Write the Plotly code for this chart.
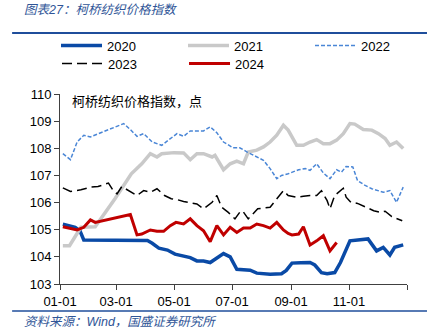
import pandas as pd
import plotly.graph_objects as go

# ---- data (days since Jan-1, index value) ----
days_2020 = [3,16,21,25,92,97,104,113,121,130,137,144,151,158,165,172,179,186,200,207,221,233,238,244,253,263,268,275,281,289,295,300,305,324,328,333,340,347,352,361]
val_2020 = [105.20,105.09,104.96,104.62,104.60,104.50,104.32,104.25,104.10,104.01,103.97,103.85,103.85,103.79,103.95,104.12,104.00,103.54,103.51,103.40,103.36,103.38,103.50,103.77,103.78,103.79,103.70,103.42,103.38,103.42,103.79,104.22,104.59,104.66,104.47,104.22,104.35,104.07,104.35,104.44]

days_2021 = [3,10,22,37,58,75,86,95,102,107,120,130,137,144,151,160,163,172,179,186,193,198,207,214,221,228,235,240,249,256,263,270,277,284,291,298,305,310,319,328,335,342,347,354,361]
val_2021 = [104.41,104.41,105.09,105.11,106.15,107.06,107.43,107.80,107.68,107.80,107.84,107.83,107.58,107.80,107.80,107.68,107.74,107.21,107.43,107.53,107.43,107.86,107.93,108.05,108.23,108.48,108.85,108.67,108.11,108.11,108.23,108.32,108.17,108.17,108.30,108.54,108.91,108.89,108.69,108.67,108.54,108.36,108.11,108.23,107.99]

days_2022 = [3,11,18,25,32,39,48,58,67,74,81,88,97,107,116,123,130,137,151,158,165,172,182,189,197,207,214,221,228,233,240,251,258,263,270,277,284,291,296,301,308,313,321,328,335,340,347,354,361]
val_2022 = [107.80,107.58,108.23,108.48,108.42,108.52,108.64,108.77,108.91,108.69,108.44,108.54,108.23,108.11,108.36,108.54,108.44,108.64,108.64,108.79,108.57,108.23,108.02,108.02,107.86,107.68,107.56,107.25,106.88,107.00,107.06,107.21,107.25,107.19,107.43,107.09,106.88,107.21,107.12,107.33,107.31,106.81,106.63,106.51,106.44,106.38,106.44,106.01,106.57]

days_2023 = [3,11,22,32,40,51,56,60,65,72,81,88,95,102,110,117,123,130,137,144,151,160,165,170,177,184,189,192,198,201,208,221,228,235,240,249,256,263,270,275,281,284,289,298,301,306,313,321,330,337,342,349,358,360]
val_2023 = [106.54,106.41,106.47,106.57,106.59,106.72,106.44,106.32,106.59,106.44,106.26,106.44,106.38,106.51,106.26,106.14,106.11,106.04,105.99,105.95,105.77,106.01,106.26,105.83,105.64,105.40,105.64,105.70,105.40,105.52,105.77,105.83,106.14,106.44,106.26,106.20,106.23,106.26,106.26,106.44,106.07,105.77,106.26,106.53,106.20,106.01,105.97,105.85,105.70,105.64,105.68,105.48,105.36,105.33]

days_2024 = [3,11,18,25,32,37,74,81,86,95,102,109,116,122,130,137,144,151,158,165,172,179,186,193,200,207,214,221,228,235,240,244,251,256,263,270,277,284,291]
val_2024 = [105.11,105.06,104.99,105.09,105.36,105.27,105.56,104.81,104.84,104.99,104.94,104.94,105.15,105.27,105.21,105.40,105.15,104.96,104.56,105.15,104.81,105.09,104.90,105.06,105.06,105.21,105.15,105.06,105.27,104.99,104.86,104.81,104.84,105.11,104.44,104.59,104.78,104.22,104.53]

tick_dates = ["2021-01-01","2021-03-01","2021-05-01","2021-07-01","2021-09-01","2021-11-01","2022-01-01"]
tick_text = ["01-01","03-01","05-01","07-01","09-01","11-01",""]

title_text = "图表27：柯桥纺织价格指数"
unit_text = "柯桥纺织价格指数，点"
source_text = "资料来源：Wind，国盛证券研究所"

base = pd.Timestamp("2021-01-01")
def to_dates(days):
    return [base + pd.Timedelta(days=d) for d in days]

FONT = "Liberation Sans, Arial, Noto Sans CJK SC, sans-serif"
CJK = "Liberation Sans, Noto Sans CJK SC, sans-serif"

series = [
    ("2020", days_2020, val_2020, dict(color="#0A4AA6", width=3.5), "legend"),
    ("2021", days_2021, val_2021, dict(color="#C9C9C9", width=3.5), "legend"),
    ("2022", days_2022, val_2022, dict(color="#4A86D6", width=1.5, dash="4px,2px"), "legend"),
    ("2023", days_2023, val_2023, dict(color="#000000", width=1.5, dash="10px,5px"), "legend2"),
    ("2024", days_2024, val_2024, dict(color="#C00000", width=3), "legend2"),
]

fig = go.Figure()
for name, d, v, line, lg in series:
    fig.add_trace(go.Scatter(x=to_dates(d), y=v, name=name, mode="lines", line=line, legend=lg))

legend_common = dict(orientation="h", x=-0.0086, xanchor="left", yanchor="top",
                     entrywidth=71, entrywidthmode="pixels", itemwidth=41,
                     font=dict(size=13, color="#000000"), bgcolor="rgba(0,0,0,0)",
                     tracegroupgap=0)

fig.update_layout(
    width=437, height=333,
    margin=dict(l=60, r=30, t=94, b=49),
    paper_bgcolor="white", plot_bgcolor="white",
    font=dict(family=FONT, size=13, color="#000000"),
    showlegend=True,
    legend=dict(y=1.3342, **legend_common),
    legend2=dict(y=1.2395, **legend_common),
    xaxis=dict(range=[base, pd.Timestamp("2022-01-01")], tickvals=tick_dates, ticktext=tick_text,
               showgrid=False, zeroline=False, showline=True, linecolor="#404040", linewidth=1,
               ticks="outside", ticklen=5, tickcolor="#404040",
               tickfont=dict(size=13, color="#000000")),
    yaxis=dict(range=[103, 110], dtick=1, tick0=103, showgrid=False, zeroline=False,
               showline=True, linecolor="#404040", linewidth=1,
               ticks="outside", ticklen=5, tickcolor="#404040",
               tickfont=dict(size=13, color="#000000")),
    shapes=[
        dict(type="line", xref="paper", yref="paper", x0=-0.138, x1=1.0576, y0=1.321, y1=1.321,
             line=dict(color="#1F4E9B", width=2)),
        dict(type="line", xref="paper", yref="paper", x0=-0.138, x1=1.0576, y0=-0.142, y1=-0.142,
             line=dict(color="#1F4E9B", width=1.5)),
    ],
    annotations=[
        dict(text=title_text, xref="paper", yref="paper", x=-0.1095, y=1.442,
             xanchor="left", yanchor="middle", showarrow=False,
             font=dict(family=CJK, size=12.5, color="#2F5597", style="italic")),
        dict(text=source_text, xref="paper", yref="paper", x=-0.1095, y=-0.2,
             xanchor="left", yanchor="middle", showarrow=False,
             font=dict(family=CJK, size=12.5, color="#2F5597", style="italic")),
        dict(text=unit_text, xref="paper", yref="paper", x=0.0288, y=0.9595,
             xanchor="left", yanchor="middle", showarrow=False,
             font=dict(family=CJK, size=13, color="#000000")),
    ],
)

fig.write_html("out.html")
